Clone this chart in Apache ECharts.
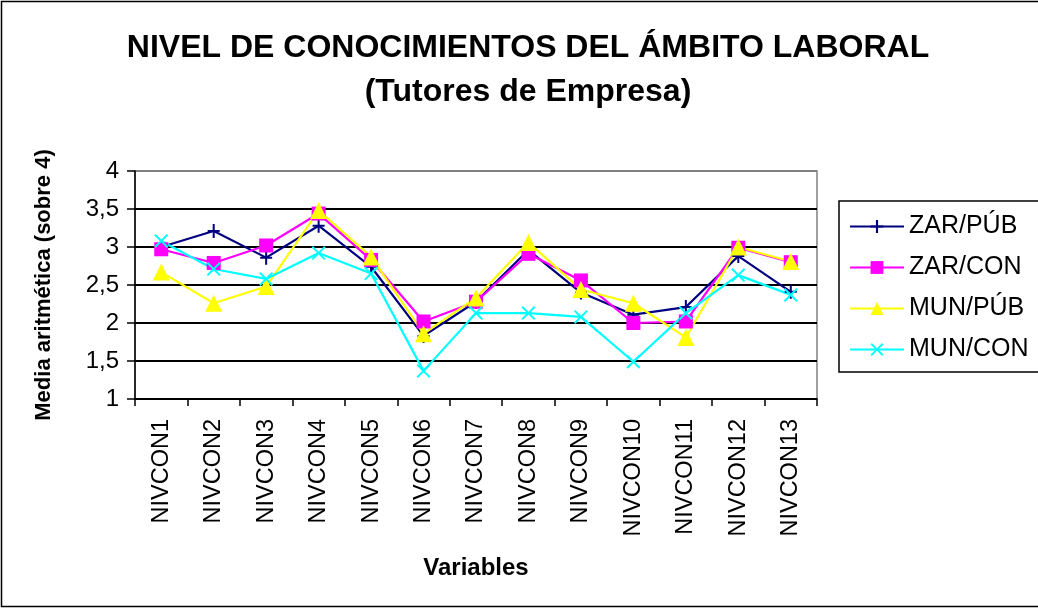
<!DOCTYPE html>
<html>
<head>
<meta charset="utf-8">
<script src="https://cdn.jsdelivr.net/npm/echarts@6/dist/echarts.min.js"></script>
<style>
  html, body { margin: 0; padding: 0; background: #fff; }
  #chart { width: 1038px; height: 609px; }
</style>
</head>
<body>
<div id="chart"></div>
<script>
// Categories and per-group means (scale 1–4)
const categories = ['NIVCON1','NIVCON2','NIVCON3','NIVCON4','NIVCON5','NIVCON6','NIVCON7',
                    'NIVCON8','NIVCON9','NIVCON10','NIVCON11','NIVCON12','NIVCON13'];
const zarPub = [3.00, 3.21, 2.86, 3.28, 2.74, 1.83, 2.28, 2.96, 2.40, 2.11, 2.21, 2.88, 2.41];
const zarCon = [2.97, 2.79, 3.02, 3.44, 2.83, 2.02, 2.28, 2.91, 2.56, 2.00, 2.02, 2.99, 2.80];
const munPub = [2.67, 2.26, 2.48, 3.48, 2.87, 1.86, 2.33, 3.06, 2.44, 2.26, 1.81, 3.00, 2.81];
const munCon = [3.08, 2.71, 2.58, 2.92, 2.65, 1.37, 2.13, 2.13, 2.08, 1.49, 2.13, 2.63, 2.37];
const seriesNames = ['ZAR/PÚB', 'ZAR/CON', 'MUN/PÚB', 'MUN/CON'];
const yTicks = { min: 1, max: 4, step: 0.5 };

const FONT = "'Liberation Sans', Arial, sans-serif";

// marker shapes
const plusPath = 'path://M5,0 H7 V6 H12 V8 H7 V14 H5 V8 H0 V6 H5 Z';
const crossPath = 'path://M0,1.4 L1.4,0 L7,5.6 L12.6,0 L14,1.4 L8.4,7 L14,12.6 L12.6,14 L7,8.4 L1.4,14 L0,12.6 L5.6,7 Z';

function lineSeries(name, data, color, symbol, size) {
  return {
    name, type: 'line', data,
    symbol, symbolSize: size,
    lineStyle: { color, width: 2.2 },
    itemStyle: { color, borderWidth: 0 },
    emphasis: { disabled: true },
    animation: false
  };
}

const chart = echarts.init(document.getElementById('chart'));
chart.setOption({
  backgroundColor: '#fff',
  animation: false,
  graphic: [
    { type: 'rect', shape: { x: 1.5, y: 1.5, width: 1040, height: 605 },
      style: { fill: 'none', stroke: '#000', lineWidth: 1.5 }, z: 0 },
    { type: 'text', x: 528, y: 48,
      style: { text: 'NIVEL DE CONOCIMIENTOS DEL ÁMBITO LABORAL', font: 'bold 32px ' + FONT,
               fill: '#000', textAlign: 'center', textVerticalAlign: 'middle' } },
    { type: 'text', x: 528, y: 92,
      style: { text: '(Tutores de Empresa)', font: 'bold 32px ' + FONT,
               fill: '#000', textAlign: 'center', textVerticalAlign: 'middle' } }
  ],
  grid: { left: 135, top: 171, right: 221, bottom: 210, show: true,
          borderColor: '#808080', borderWidth: 1.5, backgroundColor: 'transparent' },
  legend: {
    orient: 'vertical', left: 839, top: 201,
    padding: [13, 40, 10, 10], itemGap: 16,
    itemWidth: 54, itemHeight: 16,
    borderColor: '#000', borderWidth: 1.5,
    textStyle: { fontFamily: FONT, fontSize: 25, color: '#000' },
    data: seriesNames
  },
  xAxis: {
    type: 'category', data: categories, boundaryGap: true,
    name: 'Variables', nameLocation: 'middle', nameGap: 157,
    nameTextStyle: { fontFamily: FONT, fontSize: 24, fontWeight: 'bold', color: '#000' },
    axisLine: { lineStyle: { color: '#000', width: 1.5 } },
    axisTick: { show: true, length: 7, interval: 0, lineStyle: { color: '#000', width: 1.5 } },
    axisLabel: { rotate: 90, interval: 0, margin: 20, fontFamily: FONT, fontSize: 23.5, color: '#000' },
    splitLine: { show: false }
  },
  yAxis: {
    type: 'value', min: yTicks.min, max: yTicks.max, interval: yTicks.step,
    name: 'Media aritmética (sobre 4)', nameLocation: 'middle', nameGap: 80,
    nameTextStyle: { fontFamily: FONT, fontSize: 22, fontWeight: 'bold', color: '#000' },
    axisLine: { show: true, lineStyle: { color: '#000', width: 1.5 } },
    axisTick: { show: true, length: 8, lineStyle: { color: '#000', width: 1.5 } },
    axisLabel: { margin: 16, fontFamily: FONT, fontSize: 24, color: '#000',
                 formatter: v => String(v).replace('.', ',') },
    splitLine: { show: true, lineStyle: { color: ['#000','#000','#000','#000','#000','#000','#808080'], width: 2 } }
  },
  series: [
    lineSeries(seriesNames[0], zarPub, '#000080', plusPath, [12, 14]),
    lineSeries(seriesNames[1], zarCon, '#FF00FF', 'rect', 14),
    lineSeries(seriesNames[2], munPub, '#FFFF00', 'triangle', 17),
    lineSeries(seriesNames[3], munCon, '#00FFFF', crossPath, 14)
  ]
});
</script>
</body>
</html>
